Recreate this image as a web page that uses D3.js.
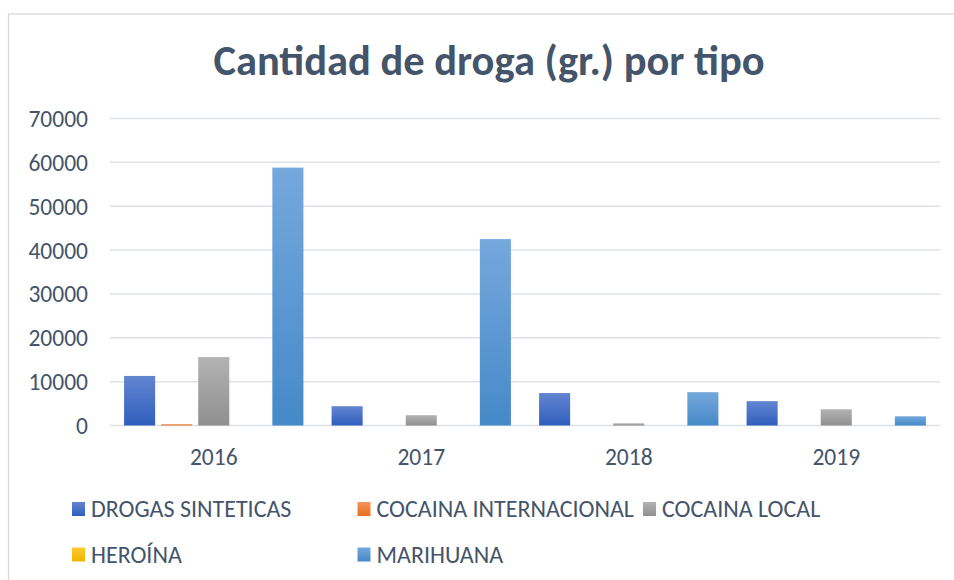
<!DOCTYPE html>
<html lang="es">
<head>
  <meta charset="UTF-8" />
  <title>Cantidad de droga (gr.) por tipo</title>
  <script src="https://d3js.org/d3.v7.min.js"></script>
  <style>
    body {
      margin: 0;
      background-color: #ffffff;
    }

    svg text {
      font-family: Carlito, Lato, "Open Sans", sans-serif;
      fill: #44546a;
    }

    .title {
      font-size: 42.5px;
      font-weight: bold;
    }

    .tick-label {
      font-size: 23.5px;
    }

    .legend-label {
      font-size: 24px;
    }

    .grid {
      stroke: #dde1e6;
      stroke-width: 1.5px;
    }
  </style>
</head>

<body>
  <svg id="chart" width="954" height="580"></svg>

  <script>
    // data
    const years = ["2016", "2017", "2018", "2019"];
    const series = ["DROGAS SINTETICAS", "COCAINA INTERNACIONAL", "COCAINA LOCAL", "HEROÍNA", "MARIHUANA"];
    const drogasSinteticas = [11300, 4400, 7400, 5550];
    const cocainaInternacional = [300, 0, 0, 0];
    const cocainaLocal = [15600, 2350, 500, 3700];
    const heroina = [0, 0, 0, 0];
    const marihuana = [58800, 42500, 7600, 2100];
    const yTicks = [0, 10000, 20000, 30000, 40000, 50000, 60000, 70000];

    const values = [drogasSinteticas, cocainaInternacional, cocainaLocal, heroina, marihuana];
    // top / bottom colours of each bar gradient
    const colors = [
      ["#6385d0", "#2f5fbd"],
      ["#f4955a", "#e8711f"],
      ["#b3b3b3", "#8f8f8f"],
      ["#ffcb33", "#f0b400"],
      ["#75a8dd", "#4589c8"]
    ];

    const svg = d3.select("#chart");
    const margin = { top: 118.5, left: 110, right: 940, bottom: 425.5 };

    // chart frame
    svg.append("rect")
      .attr("x", 8.5)
      .attr("y", 14)
      .attr("width", 980)
      .attr("height", 600)
      .attr("fill", "none")
      .attr("stroke", "#d9d9d9")
      .attr("stroke-width", 1.3);

    svg.append("text")
      .attr("class", "title")
      .attr("x", 489)
      .attr("y", 75)
      .attr("text-anchor", "middle")
      .text("Cantidad de droga (gr.) por tipo");

    const x0 = d3.scaleBand().domain(years).range([margin.left, margin.right]);
    const x1 = d3.scaleBand()
      .domain(d3.range(series.length))
      .range([0, x0.bandwidth()])
      .paddingInner(0.162)
      .paddingOuter(0.38);
    const y = d3.scaleLinear().domain([0, 70000]).range([margin.bottom, margin.top]);

    const defs = svg.append("defs");
    colors.forEach((c, i) => {
      const g = defs.append("linearGradient")
        .attr("id", "grad" + i)
        .attr("x1", 0).attr("y1", 0).attr("x2", 0).attr("y2", 1);
      g.append("stop").attr("offset", "0%").attr("stop-color", c[0]);
      g.append("stop").attr("offset", "100%").attr("stop-color", c[1]);
    });

    // gridlines
    svg.append("g")
      .selectAll("line")
      .data(yTicks)
      .join("line")
      .attr("class", "grid")
      .attr("x1", margin.left)
      .attr("x2", margin.right)
      .attr("y1", (d) => y(d))
      .attr("y2", (d) => y(d));

    svg.append("g")
      .selectAll("text")
      .data(yTicks)
      .join("text")
      .attr("class", "tick-label")
      .attr("x", 88)
      .attr("y", (d) => y(d) + 8.5)
      .attr("text-anchor", "end")
      .text((d) => d);

    svg.append("g")
      .selectAll("text")
      .data(years)
      .join("text")
      .attr("class", "tick-label")
      .attr("x", (d) => x0(d) + x0.bandwidth() / 2)
      .attr("y", 464.5)
      .attr("text-anchor", "middle")
      .text((d) => d);

    // bars
    const bars = [];
    years.forEach((yr, i) => {
      values.forEach((v, s) => {
        if (v[i] > 0) bars.push({ year: yr, s: s, value: v[i] });
      });
    });

    svg.append("g")
      .selectAll("rect")
      .data(bars)
      .join("rect")
      .attr("x", (d) => x0(d.year) + x1(d.s))
      .attr("width", x1.bandwidth())
      .attr("y", (d) => y(d.value))
      .attr("height", (d) => y(0) - y(d.value))
      .attr("fill", (d) => "url(#grad" + d.s + ")");

    // legend, 3 columns
    const legend = svg.append("g")
      .selectAll("g")
      .data(series)
      .join("g")
      .attr("transform", (d, i) => `translate(${72 + (i % 3) * 285.5},${502 + Math.floor(i / 3) * 45.5})`);

    legend.append("rect")
      .attr("width", 13)
      .attr("height", 14)
      .attr("fill", (d, i) => "url(#grad" + i + ")");

    legend.append("text")
      .attr("class", "legend-label")
      .attr("x", 19)
      .attr("y", 15)
      .text((d) => d);
  </script>
</body>
</html>
